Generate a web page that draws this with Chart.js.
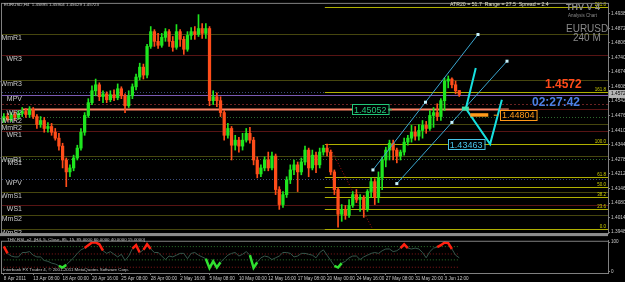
<!DOCTYPE html>
<html>
<head>
<meta charset="utf-8">
<title>EURUSD H4</title>
<script src="https://cdn.jsdelivr.net/npm/chart.js@4.4.1/dist/chart.umd.min.js"></script>
<style>
body{margin:0;background:#000;}
#box{position:relative;width:625px;height:282px;background:#000;overflow:hidden;}
canvas{position:absolute;left:0;}
</style>
</head>
<body>
<div id="box">
<canvas id="main" width="625" height="237" style="top:0"></canvas>
<canvas id="osc" width="625" height="45" style="top:237px"></canvas>
</div>
<script>

// time axis: one slot per candle, a tick label every 8 slots
const timeTicks = ["8 Apr 2011","13 Apr 08:00","18 Apr 00:00","20 Apr 16:00","25 Apr 08:00","28 Apr 00:00","2 May 16:00","5 May 08:00","10 May 00:00","12 May 16:00","17 May 08:00","20 May 00:00","24 May 16:00","27 May 08:00","31 May 20:00","3 Jun 12:00"]
const tickEvery = 8
const slotCount = 165

// candles
const opens = [1.4454,1.4472,1.4459,1.4481,1.4468,1.4486,1.4495,1.4481,1.4504,1.4472,
1.4436,1.4454,1.4418,1.4427,1.4401,1.4374,1.4338,1.4275,1.4221,1.4239,
1.4284,1.4329,1.4401,1.4477,1.4535,1.4589,1.4616,1.4562,1.4575,1.4548,
1.4571,1.4557,1.4598,1.4566,1.4521,1.4566,1.4607,1.4651,1.4696,1.4660,
1.4790,1.4857,1.4813,1.4795,1.4831,1.4857,1.4813,1.4786,1.4857,1.4822,
1.4777,1.4840,1.4857,1.4844,1.4871,1.4849,1.4871,1.4544,1.4562,1.4544,
1.4490,1.4387,1.4418,1.4342,1.4365,1.4338,1.4365,1.4396,1.4365,1.4275,
1.4212,1.4239,1.4275,1.4239,1.4293,1.4141,1.4073,1.4118,1.4185,1.4230,
1.4253,1.4221,1.4266,1.4320,1.4239,1.4297,1.4253,1.4311,1.4329,1.4311,
1.4221,1.4141,1.4029,1.4051,1.4024,1.4069,1.4118,1.4096,1.4105,1.4051,
1.4132,1.4177,1.4105,1.4194,1.4275,1.4320,1.4351,1.4320,1.4293,1.4311,
1.4356,1.4374,1.4401,1.4383,1.4409,1.4432,1.4418,1.4477,1.4490,1.4472,
1.4544,1.4633,1.4642,1.4616,1.4590]
const highs = [1.4486,1.4486,1.4490,1.4495,1.4499,1.4513,1.4508,1.4517,1.4513,1.4481,
1.4472,1.4468,1.4445,1.4441,1.4418,1.4396,1.4351,1.4284,1.4253,1.4297,
1.4342,1.4418,1.4490,1.4553,1.4611,1.4642,1.4625,1.4589,1.4584,1.4589,
1.4593,1.4620,1.4607,1.4575,1.4589,1.4620,1.4665,1.4714,1.4710,1.4799,
1.4880,1.4866,1.4849,1.4849,1.4871,1.4866,1.4835,1.4889,1.4866,1.4835,
1.4857,1.4875,1.4880,1.4934,1.4893,1.4893,1.4880,1.4589,1.4580,1.4562,
1.4499,1.4441,1.4427,1.4387,1.4378,1.4396,1.4418,1.4423,1.4378,1.4289,
1.4253,1.4289,1.4311,1.4311,1.4302,1.4154,1.4132,1.4199,1.4253,1.4275,
1.4266,1.4284,1.4338,1.4329,1.4320,1.4311,1.4329,1.4342,1.4347,1.4320,
1.4230,1.4150,1.4073,1.4069,1.4096,1.4132,1.4141,1.4118,1.4114,1.4141,
1.4194,1.4190,1.4221,1.4289,1.4333,1.4365,1.4365,1.4329,1.4320,1.4374,
1.4387,1.4432,1.4427,1.4436,1.4454,1.4450,1.4499,1.4513,1.4530,1.4553,
1.4647,1.4656,1.4647,1.4633,1.4590]
const lows = [1.4445,1.4450,1.4450,1.4454,1.4459,1.4472,1.4468,1.4468,1.4463,1.4418,
1.4423,1.4401,1.4401,1.4387,1.4365,1.4320,1.4239,1.4154,1.4199,1.4226,
1.4275,1.4320,1.4387,1.4468,1.4526,1.4566,1.4544,1.4535,1.4535,1.4539,
1.4544,1.4548,1.4553,1.4490,1.4513,1.4553,1.4593,1.4638,1.4642,1.4647,
1.4781,1.4790,1.4781,1.4786,1.4813,1.4790,1.4768,1.4777,1.4790,1.4754,
1.4768,1.4822,1.4822,1.4835,1.4826,1.4826,1.4521,1.4526,1.4517,1.4472,
1.4365,1.4374,1.4275,1.4320,1.4311,1.4320,1.4356,1.4351,1.4253,1.4194,
1.4199,1.4226,1.4226,1.4230,1.4118,1.4051,1.4060,1.4105,1.4168,1.4208,
1.4132,1.4208,1.4253,1.4199,1.4230,1.4217,1.4239,1.4297,1.4293,1.4208,
1.4118,1.3970,1.3997,1.4006,1.4015,1.4060,1.4082,1.4042,1.4015,1.4042,
1.4105,1.4073,1.4082,1.4141,1.4244,1.4275,1.4275,1.4262,1.4275,1.4297,
1.4342,1.4356,1.4365,1.4365,1.4374,1.4396,1.4409,1.4423,1.4454,1.4454,
1.4499,1.4602,1.4602,1.4575,1.4563]
const closes = [1.4472,1.4459,1.4481,1.4468,1.4486,1.4495,1.4481,1.4504,1.4472,1.4436,
1.4454,1.4418,1.4427,1.4401,1.4374,1.4338,1.4275,1.4221,1.4239,1.4284,
1.4329,1.4401,1.4477,1.4535,1.4589,1.4616,1.4562,1.4575,1.4548,1.4571,
1.4557,1.4598,1.4566,1.4521,1.4566,1.4607,1.4651,1.4696,1.4660,1.4790,
1.4857,1.4813,1.4795,1.4831,1.4857,1.4813,1.4786,1.4857,1.4822,1.4777,
1.4840,1.4857,1.4844,1.4871,1.4849,1.4871,1.4544,1.4562,1.4544,1.4490,
1.4387,1.4418,1.4342,1.4365,1.4338,1.4365,1.4396,1.4365,1.4275,1.4212,
1.4239,1.4275,1.4239,1.4293,1.4141,1.4073,1.4118,1.4185,1.4230,1.4253,
1.4221,1.4266,1.4320,1.4239,1.4297,1.4253,1.4311,1.4329,1.4311,1.4221,
1.4141,1.4029,1.4051,1.4024,1.4069,1.4118,1.4096,1.4105,1.4051,1.4132,
1.4177,1.4105,1.4194,1.4275,1.4320,1.4351,1.4320,1.4293,1.4311,1.4356,
1.4374,1.4401,1.4383,1.4409,1.4432,1.4418,1.4477,1.4490,1.4472,1.4544,
1.4633,1.4642,1.4616,1.4589,1.4572]

// RSI (5)
const rsi = [86,62,53,50,50,65,65,68,56,50,50,38,35,29,26,20,14,23,35,47,
62,74,80,90,99,99,93,71,62,68,59,50,59,38,53,78,90,65,74,93,
77,65,65,53,41,53,50,56,62,62,44,62,65,56,50,44,12,35,14,32,
44,56,62,65,53,59,68,56,13,32,47,53,50,41,47,53,65,65,62,50,
53,62,62,59,56,47,65,74,56,38,20,14,29,35,47,53,53,41,50,56,
62,65,62,71,77,77,68,71,80,93,80,77,80,77,65,47,68,80,83,90,
99,97,77,56,47]
const rsiLevels = [85,60,40,15]

const priceTicks = [1.3948,1.4014,1.4080,1.4146,1.4212,1.4278,1.4344,1.4410,1.4476,1.4542,1.4608,1.4674,1.4740,1.4806,1.4872,1.4938]
const yMin = 1.39435
const yMax = 1.49828

// pivot levels
const pivotLabels = ["MmR1","WR3","WmR3","","MPV","","WR2","WmR2","MmR2","WR1","WmR1","MS1","WPV","WmS1","WS1","MmS2","WmS2"]
const pivotPrices = [1.4844,1.4750,1.4638,1.4584,1.4571,1.4530,1.4505,1.4468,1.4436,1.4405,1.4293,1.4280,1.4190,1.4132,1.4069,1.4024,1.3961]
const pivotKinds = ["olive","red","olive","dotBlue","purple","dotRed","salmon","dotGreen","olive","red","olive","dotGreen","dotBlue","olive","red","olive","olive"]

// fibonacci
const fibLevels = [0,23.6,38.2,50,61.8,100,161.8,261.8]
const fibLow = 1.3962
const fibHigh = 1.43463
const fibFrom = 87.4
const fibTo = 100.4

// channel lines  [i1, p1, i2, p2]
const channelUpper = [100.5,1.4230,129.1,1.4844]
const channelLower = [107.0,1.4168,137.0,1.4723]
// forecast zigzag
const zigIdx = [128.5,125.8,132.4,135.6]
const zigPrice = [1.4692,1.4508,1.4347,1.4548]

const lastClose = 1.45723

const kindStyle = {
  olive:{c:"#46460e",d:[],w:1},
  red:{c:"#581414",d:[],w:1},
  dotBlue:{c:"#3a4a7a",d:[1,2],w:1},
  purple:{c:"#7a5ab4",d:[],w:1},
  dotRed:{c:"#6a2222",d:[2,2],w:1},
  salmon:{c:"#ff8466",d:[],w:2},
  dotGreen:{c:"#2e6a2e",d:[1,2],w:1}
}

const slots = []
for(let i=0;i<slotCount;i++){
  slots.push(i%tickEvery===0 && timeTicks[i/tickEvery] ? timeTicks[i/tickEvery] : "")
}

const wicks = lows.map((l,i)=>[l,highs[i]])
const bodies = opens.map((o,i)=>[o,closes[i]])
const candleColors = closes.map((c,i)=> c>=opens[i] ? "#1ee61e" : "#ff4d1a")

Chart.defaults.font.family = "Liberation Sans"
Chart.defaults.font.size = 5

function hline(ctx,x1,x2,y,st){
  ctx.save()
  ctx.strokeStyle = st.c
  ctx.lineWidth = st.w
  ctx.setLineDash(st.d)
  ctx.beginPath()
  ctx.moveTo(x1,Math.round(y)+0.5)
  ctx.lineTo(x2,Math.round(y)+0.5)
  ctx.stroke()
  ctx.restore()
}

function priceBox(ctx,x,y,text,color){
  ctx.save()
  ctx.font = '9px "Liberation Sans"'
  const w = ctx.measureText(text).width + 4
  ctx.fillStyle = "#000"
  ctx.fillRect(x,y-5,w,11)
  ctx.strokeStyle = color
  ctx.lineWidth = 1
  ctx.strokeRect(Math.round(x)+0.5,Math.round(y-5)+0.5,w,10)
  ctx.fillStyle = color
  ctx.textBaseline = "middle"
  ctx.fillText(text,x+2,y+1)
  ctx.restore()
}

const mainOverlay = {
  id:"mainOverlay",
  beforeDatasetsDraw(chart){
    const {ctx, chartArea:a, scales:{x,y}} = chart
    pivotPrices.forEach((p,i)=>{
      const py = y.getPixelForValue(p)
      const st = kindStyle[pivotKinds[i]]
      if(pivotKinds[i]==="salmon"){
        hline(ctx,a.left,a.right,py,kindStyle.red)
        hline(ctx,x.getPixelForValue(5),x.getPixelForValue(137.5),py,st)
      } else {
        hline(ctx,a.left,a.right,py,st)
      }
    })
    // fib levels
    const fx = x.getPixelForValue(fibFrom)
    ctx.save()
    ctx.font = '4.5px "Liberation Sans"'
    ctx.textAlign = "right"
    ctx.textBaseline = "bottom"
    fibLevels.forEach(l=>{
      const py = y.getPixelForValue(fibLow + (fibHigh-fibLow)*l/100)
      hline(ctx,fx,a.right,py,{c:"#b0b000",d:[],w:1})
      ctx.fillStyle = "#d0d000"
      ctx.fillText(l.toFixed(1),a.right-2,Math.round(py))
    })
    ctx.restore()
    // fib trend line
    ctx.save()
    ctx.strokeStyle = "#b01010"
    ctx.setLineDash([1,2])
    ctx.beginPath()
    ctx.moveTo(x.getPixelForValue(fibFrom+0.9),y.getPixelForValue(fibHigh))
    ctx.lineTo(x.getPixelForValue(fibTo),y.getPixelForValue(fibLow))
    ctx.stroke()
    ctx.restore()
  },
  afterDatasetsDraw(chart){
    const {ctx, chartArea:a, scales:{x,y}} = chart
    // channels
    ctx.save()
    ctx.strokeStyle = "#3aa6d0"
    ctx.lineWidth = 1
    ;[channelUpper,channelLower].forEach(c=>{
      const x1 = x.getPixelForValue(c[0]), y1 = y.getPixelForValue(c[1])
      const x2 = x.getPixelForValue(c[2]), y2 = y.getPixelForValue(c[3])
      ctx.beginPath(); ctx.moveTo(x1,y1); ctx.lineTo(x2,y2); ctx.stroke()
      ctx.fillStyle = "#c8f4ff"
      ;[[x1,y1],[x2,y2],[(x1+x2)/2,(y1+y2)/2]].forEach(pt=>ctx.fillRect(pt[0]-1.5,pt[1]-1.5,3,3))
    })
    // zigzag forecast
    ctx.strokeStyle = "#16e0e0"
    ctx.lineWidth = 2
    ctx.beginPath()
    zigIdx.forEach((v,i)=>{
      const px = x.getPixelForValue(v), py = y.getPixelForValue(zigPrice[i])
      if(i===0) ctx.moveTo(px,py); else ctx.lineTo(px,py)
    })
    ctx.stroke()
    ctx.fillStyle = "#3ee0a8"
    ctx.fillRect(x.getPixelForValue(zigIdx[1])-4,y.getPixelForValue(zigPrice[1])-2,7,4)
    // orange level
    const oy = y.getPixelForValue(1.44804)
    ctx.fillStyle = "#ff9a1a"
    ctx.fillRect(x.getPixelForValue(127),oy-1.5,18,3.5)
    ctx.fillRect(x.getPixelForValue(133.4),oy,4,1)
    ctx.restore()
    priceBox(ctx,x.getPixelForValue(135.1),oy,"1.44804","#ff9a1a")
    const gy = y.getPixelForValue(1.45052)
    priceBox(ctx,x.getPixelForValue(94.8),gy,"1.45052","#22c878")
    ctx.fillStyle = "#22c878"
    ctx.fillRect(x.getPixelForValue(104.6),gy,4,1)
    priceBox(ctx,x.getPixelForValue(120.9),y.getPixelForValue(1.43463),"1.43463","#48c4e8")
  },
  afterDraw(chart){
    const {ctx, chartArea:a, scales:{x,y}} = chart
    ctx.save()
    // pivot labels
    ctx.font = '7px "Liberation Sans"'
    ctx.textAlign = "right"
    ctx.textBaseline = "top"
    ctx.fillStyle = "#c8c8c8"
    pivotLabels.forEach((n,i)=>{
      if(n) ctx.fillText(n,22,Math.round(y.getPixelForValue(pivotPrices[i]))+1)
    })
    // frame
    ctx.strokeStyle = "#808080"
    ctx.lineWidth = 1
    ctx.strokeRect(a.left-0.5,a.top-0.5,a.right-a.left+1,a.bottom-a.top+1)
    ctx.fillStyle = "#8c8c8c"
    ctx.fillRect(0,a.bottom,a.right,3)
    // header texts
    ctx.textAlign = "left"
    ctx.textBaseline = "middle"
    ctx.font = '4.4px "Liberation Sans"'
    ctx.fillStyle = "#c8c8c8"
    ctx.fillText("EURUSD,H4  1.45895 1.45904 1.45629 1.45723",4,5)
    ctx.font = '5.2px "Liberation Sans"'
    ctx.fillStyle = "#e4e4c8"
    ctx.fillText("ATR20 = 51.7  Range = 27.5  Spread = 2.4",450,5)
    ctx.fillStyle = "#8a8a8a"
    ctx.font = 'bold 9px "Liberation Sans"'
    ctx.fillText("THV V 4",566,8)
    ctx.font = '4.5px "Liberation Sans"'
    ctx.fillText("Analysis Chart",568,16)
    ctx.font = '10px "Liberation Sans"'
    ctx.fillText("EURUSD",566,29)
    ctx.fillText("240 M",573,38)
    ctx.font = 'bold 12px "Liberation Sans"'
    ctx.fillStyle = "#ff4a1a"
    ctx.fillText("1.4572",545,85)
    ctx.fillStyle = "#4a80e4"
    ctx.fillText("02:27:42",532,103)
    // current price tag on axis
    const cy = Math.round(y.getPixelForValue(lastClose))
    ctx.fillStyle = "#b4b4b4"
    ctx.fillRect(a.right+1,cy-4,16,8)
    ctx.fillStyle = "#000"
    ctx.font = '4.8px "Liberation Sans"'
    ctx.fillText(lastClose.toFixed(5),a.right+3,cy)
    ctx.restore()
  }
}

new Chart(document.getElementById("main"),{
  type:"bar",
  data:{
    labels:slots,
    datasets:[
      {label:"body",data:bodies,backgroundColor:candleColors,barThickness:2.6,grouped:false,order:1,minBarLength:1},
      {label:"wick",data:wicks,backgroundColor:candleColors,barThickness:1,grouped:false,order:2}
    ]
  },
  options:{
    responsive:false,
    animation:false,
    layout:{padding:{left:2,top:2,right:0,bottom:3}},
    plugins:{legend:{display:false},tooltip:{enabled:false}},
    scales:{
      x:{display:false,offset:true},
      y:{
        position:"right",min:yMin,max:yMax,
        afterFit(s){ s.width = 17 },
        afterBuildTicks(s){ s.ticks = priceTicks.map(v=>({value:v})) },
        ticks:{autoSkip:false,padding:1,color:"#c8c8c8",font:{size:4.8},callback:v=>Number(v).toFixed(5)},
        grid:{drawOnChartArea:false,tickLength:2,color:"#808080"},
        border:{color:"#808080"}
      }
    }
  },
  plugins:[mainOverlay]
})

const rsiRed = "#ff2010", rsiGreen = "#30e030"
const oscOverlay = {
  id:"oscOverlay",
  afterDraw(chart){
    const {ctx, chartArea:a} = chart
    ctx.save()
    ctx.strokeStyle = "#808080"
    ctx.strokeRect(a.left-0.5,a.top+0.5,a.right-a.left+1,a.bottom-a.top)
    ctx.font = '4.4px "Liberation Sans"'
    ctx.fillStyle = "#c8c8c8"
    ctx.textBaseline = "middle"
    ctx.fillText("THV RSI_x2  (H4, 5, Close, 85, 15, 85.0000 60.0000 40.0000 15.0000)",7,3)
    ctx.fillText("Interbank FX Trader 4, \u00a9 2001-2011 MetaQuotes Software Corp.",3,33)
    ctx.restore()
  }
}

const levelColors = ["#2e7a2e","#8a1a1a","#2e7a2e","#8a1a1a"]
new Chart(document.getElementById("osc"),{
  type:"line",
  data:{
    labels:slots,
    datasets:[
      {
        data:rsi,borderColor:"#34564a",borderWidth:1,pointRadius:0,order:0,
        segment:{
          borderColor:c=> Math.max(c.p0.parsed.y,c.p1.parsed.y)>=85 ? rsiRed : (Math.min(c.p0.parsed.y,c.p1.parsed.y)<=15 ? rsiGreen : undefined),
          borderWidth:c=> (Math.max(c.p0.parsed.y,c.p1.parsed.y)>=85 || Math.min(c.p0.parsed.y,c.p1.parsed.y)<=15) ? 2.5 : undefined
        }
      },
      ...rsiLevels.map((l,i)=>({data:rsi.map(()=>l),borderColor:levelColors[i],borderWidth:1,borderDash:[1,2],pointRadius:0,order:1}))
    ]
  },
  options:{
    responsive:false,
    animation:false,
    layout:{padding:{left:2,top:0,right:0,bottom:0}},
    plugins:{legend:{display:false},tooltip:{enabled:false}},
    scales:{
      x:{
        offset:true,
        afterFit(s){ s.height = 9 },
        grid:{offset:false,drawOnChartArea:false,tickLength:2,color:c=> slots[c.index] ? "#808080" : "rgba(0,0,0,0)"},
        border:{color:"#808080"},
        ticks:{autoSkip:false,maxRotation:0,minRotation:0,align:"start",padding:1,color:"#c8c8c8",font:{size:4.6},callback:(v,i)=>slots[i]}
      },
      y:{
        position:"right",min:-4.6,max:104.9,
        afterFit(s){ s.width = 17 },
        afterBuildTicks(s){ s.ticks = [{value:100},{value:0}] },
        ticks:{autoSkip:false,padding:1,color:"#c8c8c8",font:{size:4.6}},
        grid:{drawOnChartArea:false,tickLength:2,color:"#808080"},
        border:{color:"#808080"}
      }
    }
  },
  plugins:[oscOverlay]
})
</script>
</body>
</html>
